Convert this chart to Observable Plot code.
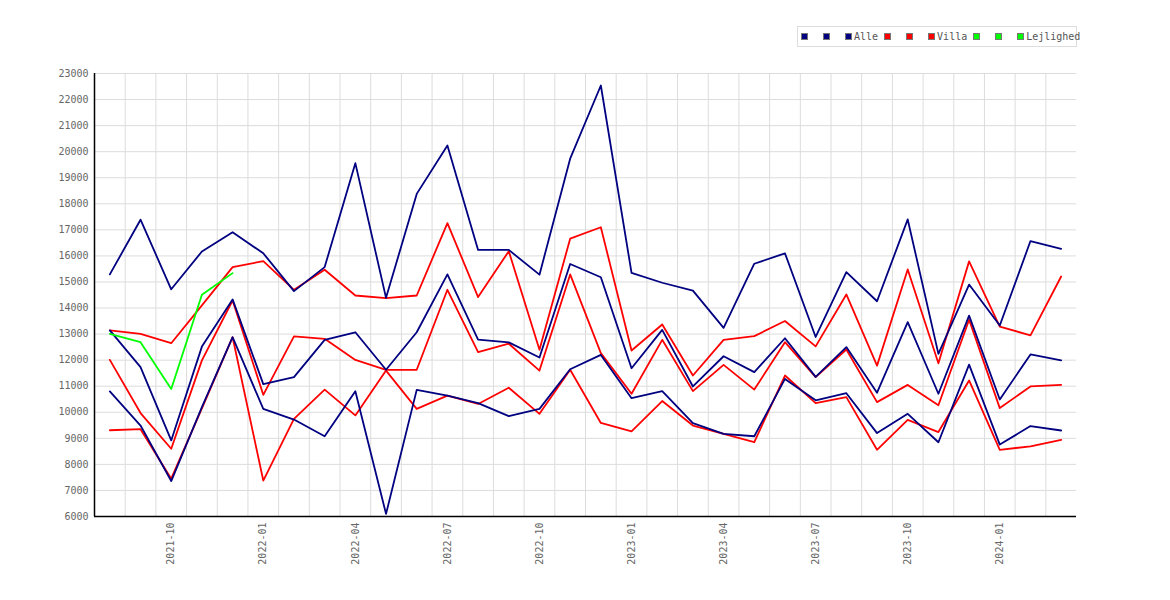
<!DOCTYPE html>
<html><head><meta charset="utf-8">
<script src="https://cdn.jsdelivr.net/npm/d3@7"></script>
<script src="https://cdn.jsdelivr.net/npm/@observablehq/plot@0.6"></script>
<style>
body{margin:0;background:#fff;}
#wrap{position:relative;width:1170px;height:600px;}
#legend{position:absolute;left:797px;top:26px;width:280px;height:21px;box-sizing:border-box;border:1px solid #ddd;background:#fff;display:flex;align-items:center;padding-left:3px;font:10px "DejaVu Sans Mono",monospace;color:#555;}
.item{display:flex;align-items:center;}
.sw{width:7px;height:7px;box-sizing:border-box;border:1px solid #777;}
.lab{margin-left:2px;}
</style></head><body>
<div id="wrap"><div id="legend"></div></div>
<script>
const months = ["2021-08","2021-09","2021-10","2021-11","2021-12","2022-01","2022-02","2022-03","2022-04","2022-05","2022-06","2022-07","2022-08","2022-09","2022-10","2022-11","2022-12","2023-01","2023-02","2023-03","2023-04","2023-05","2023-06","2023-07","2023-08","2023-09","2023-10","2023-11","2023-12","2024-01","2024-02","2024-03"];
const tickLabels = ["2021-10","2022-01","2022-04","2022-07","2022-10","2023-01","2023-04","2023-07","2023-10","2024-01"];
const yTicks = [6000,7000,8000,9000,10000,11000,12000,13000,14000,15000,16000,17000,18000,19000,20000,21000,22000,23000];

const alle1 = [15290,17390,14720,16170,16910,16100,14650,15570,19560,14390,18380,20240,16230,16230,15280,19730,22540,15350,14970,14670,13240,15700,16100,12890,15380,14260,17400,12240,14900,13330,16570,16270];
const alle2 = [13140,11730,8920,12520,14330,11080,11350,12780,13070,11630,13070,15290,12790,12680,12100,15690,15180,11690,13160,10990,12150,11540,12840,11360,12500,10750,13460,10710,13710,10490,12220,11990];
const alle3 = [10800,9490,7360,10200,12880,10130,9720,9080,10810,6100,10860,10640,10350,9850,10130,11650,12200,10540,10810,9580,9170,9080,11280,10460,10730,9200,9940,8850,11830,8760,9470,9300];
const villa1 = [13140,13010,12650,14100,15570,15800,14700,15470,14480,14380,14480,17260,14420,16180,12400,16660,17100,12370,13370,11410,12780,12920,13500,12530,14520,11790,15480,11880,15790,13290,12950,15210];
const villa2 = [12010,9970,8600,11990,14290,10670,12910,12820,12010,11630,11630,14700,12310,12630,11600,15290,12270,10710,12780,10810,11820,10870,12690,11350,12410,10390,11050,10270,13550,10160,10990,11050];
const villa3 = [9310,9350,7450,10150,12880,7380,9750,10870,9880,11600,10130,10640,10320,10940,9940,11630,9590,9270,10430,9490,9170,8850,11410,10350,10580,8560,9710,9240,11220,8560,8690,8940];
const lejl1 = [13010,12690,10890,14510,15340];

const legendItems = [
  {name:"", color:"#000080"},{name:"", color:"#000080"},{name:"Alle", color:"#000080"},
  {name:"", color:"#ff0000"},{name:"", color:"#ff0000"},{name:"Villa", color:"#ff0000"},
  {name:"", color:"#00ff00"},{name:"", color:"#00ff00"},{name:"Lejlighed", color:"#00ff00"}
];

const series = [
  {vals: villa1, color:"#ff0000"},{vals: villa2, color:"#ff0000"},{vals: villa3, color:"#ff0000"},
  {vals: alle1, color:"#000080"},{vals: alle2, color:"#000080"},{vals: alle3, color:"#000080"},
  {vals: lejl1, color:"#00ff00"}
];

const tickIdx = tickLabels.map(l => months.indexOf(l));
const gridX = months.slice(1).map((m,i) => i + 0.5);

const lineMarks = series.map(s => Plot.line(s.vals.map((v,i)=>({i, v})), {x:"i", y:"v", stroke:s.color, strokeWidth:1.8}));

const chart = Plot.plot({
  width:1170, height:600,
  marginLeft:94, marginRight:94, marginTop:73, marginBottom:84,
  x:{domain:[-0.5, months.length - 0.5], axis:null, label:null},
  y:{domain:[6000,23000], axis:null, label:null},
  style:{fontFamily:"'DejaVu Sans Mono', monospace", fontSize:"10px", color:"#666", background:"#fff"},
  marks:[
    Plot.ruleX(gridX, {stroke:"#dcdcdc", strokeWidth:1}),
    Plot.ruleY(yTicks.slice(1), {stroke:"#dcdcdc", strokeWidth:1}),
    ...lineMarks,
    Plot.axisY({ticks:yTicks, tickSize:0, tickPadding:6, tickFormat:d=>String(d), fill:"#666", label:null}),
    Plot.axisX({ticks:tickIdx, tickFormat:i=>months[i], tickRotate:-90, tickSize:0, tickPadding:6, fill:"#666", label:null}),
    Plot.ruleX([-0.5], {stroke:"#000", strokeWidth:1.5}),
    Plot.ruleY([6000], {stroke:"#000", strokeWidth:1.5})
  ]
});
document.getElementById("wrap").prepend(chart);

const leg = document.getElementById("legend");
legendItems.forEach(it => {
  const d = document.createElement("div");
  d.className = "item";
  d.style.marginRight = it.name ? "6px" : "15px";
  const sw = document.createElement("div");
  sw.className = "sw"; sw.style.background = it.color;
  d.appendChild(sw);
  if (it.name) { const s = document.createElement("span"); s.className="lab"; s.textContent = it.name; d.appendChild(s); }
  leg.appendChild(d);
});
</script>
</body></html>
